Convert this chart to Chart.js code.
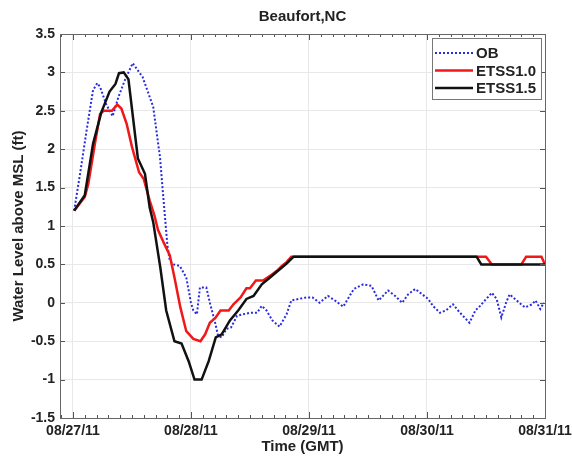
<!DOCTYPE html>
<html>
<head>
<meta charset="utf-8">
<script src="https://cdn.jsdelivr.net/npm/chart.js@4/dist/chart.umd.min.js"></script>
<style>
  body { margin: 0; background: #fff; }
  canvas { display: block; }
</style>
</head>
<body>
<canvas id="waterChart" width="572" height="456"></canvas>
<script>
// time in days after 08/27/11 00:00 GMT, water level in ft
const dayLabels = ["08/27/11", "08/28/11", "08/29/11", "08/30/11", "08/31/11"];

const obTime = [0.01, 0.06, 0.116, 0.17, 0.206, 0.23, 0.28, 0.336, 0.385, 0.44, 0.506, 0.59, 0.68, 0.737, 0.775, 0.80, 0.82, 0.85, 0.905, 0.96, 1.0, 1.02, 1.05, 1.076, 1.13, 1.16, 1.2, 1.23, 1.26, 1.30, 1.34, 1.39, 1.44, 1.50, 1.56, 1.60, 1.64, 1.69, 1.75, 1.81, 1.85, 1.91, 1.98, 2.03, 2.09, 2.16, 2.22, 2.29, 2.38, 2.46, 2.53, 2.59, 2.67, 2.73, 2.79, 2.84, 2.90, 2.96, 3.01, 3.05, 3.11, 3.16, 3.22, 3.28, 3.36, 3.41, 3.45, 3.49, 3.55, 3.59, 3.63, 3.67, 3.70, 3.76, 3.83, 3.89, 3.92, 3.96, 3.99];
const obLevel = [1.20, 1.68, 2.25, 2.77, 2.86, 2.81, 2.59, 2.43, 2.68, 2.90, 3.12, 2.94, 2.55, 1.90, 1.20, 0.75, 0.55, 0.50, 0.48, 0.33, 0.0, -0.10, -0.15, 0.20, 0.20, 0.0, -0.23, -0.43, -0.45, -0.34, -0.32, -0.17, -0.15, -0.13, -0.13, -0.04, -0.10, -0.23, -0.31, -0.15, 0.03, 0.05, 0.07, 0.07, 0.0, 0.09, 0.03, -0.05, 0.18, 0.24, 0.22, 0.03, 0.16, 0.09, 0.0, 0.11, 0.18, 0.11, 0.05, -0.04, -0.13, -0.10, -0.02, -0.13, -0.26, -0.10, -0.04, 0.03, 0.13, 0.05, -0.19, 0.0, 0.11, 0.03, -0.06, -0.02, 0.03, -0.08, 0.0];

const etss10Time = [0.01, 0.10, 0.13, 0.19, 0.23, 0.26, 0.33, 0.375, 0.41, 0.455, 0.50, 0.56, 0.60, 0.65, 0.69, 0.72, 0.77, 0.82, 0.86, 0.91, 0.96, 1.02, 1.08, 1.12, 1.16, 1.21, 1.25, 1.32, 1.36, 1.42, 1.47, 1.50, 1.55, 1.61, 1.67, 1.73, 1.77, 1.81, 1.85, 3.50, 3.55, 3.80, 3.84, 3.97, 4.00];
const etss10Level = [1.20, 1.38, 1.55, 2.11, 2.46, 2.50, 2.50, 2.58, 2.53, 2.33, 2.03, 1.70, 1.61, 1.33, 1.14, 0.95, 0.78, 0.62, 0.33, -0.06, -0.37, -0.47, -0.50, -0.41, -0.26, -0.19, -0.10, -0.10, -0.02, 0.07, 0.19, 0.19, 0.29, 0.29, 0.35, 0.42, 0.48, 0.53, 0.60, 0.60, 0.50, 0.50, 0.60, 0.60, 0.50];

const etss15Time = [0.01, 0.10, 0.17, 0.24, 0.31, 0.36, 0.39, 0.43, 0.47, 0.55, 0.61, 0.65, 0.68, 0.74, 0.79, 0.86, 0.92, 0.98, 1.03, 1.09, 1.15, 1.21, 1.26, 1.33, 1.40, 1.47, 1.53, 1.60, 1.67, 1.74, 1.81, 1.87, 3.42, 3.46, 4.00];
const etss15Level = [1.20, 1.40, 2.07, 2.48, 2.75, 2.85, 2.99, 3.00, 2.91, 1.88, 1.68, 1.24, 1.05, 0.46, -0.10, -0.50, -0.53, -0.76, -1.0, -1.0, -0.76, -0.45, -0.41, -0.23, -0.10, 0.05, 0.09, 0.24, 0.33, 0.42, 0.51, 0.60, 0.60, 0.50, 0.50];

const yTicks = [-1.5, -1, -0.5, 0, 0.5, 1, 1.5, 2, 2.5, 3, 3.5];

function toPoints(xs, ys) {
    return xs.map((x, i) => ({ x: x, y: ys[i] }));
}

const FONT = "'Liberation Sans', Arial, sans-serif";

// box, inward ticks, legend and title, MATLAB style
const matlabAxes = {
    id: "matlabAxes",
    afterDraw(chart) {
        const ctx = chart.ctx;
        const a = chart.chartArea;
        const xs = chart.scales.x;
        const ys = chart.scales.y;
        ctx.save();
        ctx.strokeStyle = "#555";
        ctx.lineWidth = 1;
        ctx.beginPath();
        // minor x ticks (every 0.1 day)
        for (let i = -1; i <= 40; i++) {
            const v = i / 10;
            if (v < xs.min || v > xs.max) continue;
            const px = Math.round(xs.getPixelForValue(v)) + 0.5;
            const len = (i % 10 === 0) ? 6 : 3;
            ctx.moveTo(px, a.bottom); ctx.lineTo(px, a.bottom - len);
            ctx.moveTo(px, a.top); ctx.lineTo(px, a.top + len);
        }
        yTicks.forEach(v => {
            const py = Math.round(ys.getPixelForValue(v)) + 0.5;
            ctx.moveTo(a.left, py); ctx.lineTo(a.left + 5, py);
            ctx.moveTo(a.right, py); ctx.lineTo(a.right - 5, py);
        });
        ctx.stroke();
        ctx.strokeStyle = "#666";
        ctx.strokeRect(Math.round(a.left) + 0.5, Math.round(a.top) + 0.5,
                       Math.round(a.right - a.left), Math.round(a.bottom - a.top));

        // title
        ctx.fillStyle = "#222";
        ctx.font = "bold 15px " + FONT;
        ctx.textAlign = "center";
        ctx.textBaseline = "middle";
        ctx.fillText("Beaufort,NC", (a.left + a.right) / 2, 17);

        // legend
        const bx = 432, by = 38, bw = 109, bh = 61;
        ctx.fillStyle = "#fff";
        ctx.fillRect(bx, by, bw, bh);
        ctx.strokeStyle = "#777";
        ctx.strokeRect(bx + 0.5, by + 0.5, bw, bh);
        ctx.textAlign = "left";
        ctx.font = "bold 15px " + FONT;
        chart.data.datasets.forEach((ds, i) => {
            const ly = by + 15 + i * 17.5;
            ctx.beginPath();
            ctx.strokeStyle = ds.borderColor;
            ctx.lineWidth = ds.borderWidth;
            ctx.setLineDash(ds.borderDash || []);
            ctx.moveTo(435, ly); ctx.lineTo(473, ly);
            ctx.stroke();
            ctx.setLineDash([]);
            ctx.fillStyle = "#222";
            ctx.fillText(ds.label, 476, ly + 1);
        });
        ctx.restore();
    }
};

new Chart(document.getElementById("waterChart"), {
    type: "line",
    data: {
        datasets: [
            {
                label: "OB",
                data: toPoints(obTime, obLevel),
                borderColor: "#2a2ae0",
                borderWidth: 2,
                borderDash: [2, 2],
                pointRadius: 0,
                tension: 0,
                order: 3
            },
            {
                label: "ETSS1.0",
                data: toPoints(etss10Time, etss10Level),
                borderColor: "#f01818",
                borderWidth: 2.5,
                pointRadius: 0,
                tension: 0,
                order: 2
            },
            {
                label: "ETSS1.5",
                data: toPoints(etss15Time, etss15Level),
                borderColor: "#111",
                borderWidth: 2.5,
                pointRadius: 0,
                tension: 0,
                order: 1
            }
        ]
    },
    options: {
        responsive: false,
        animation: false,
        layout: { padding: { top: 34, right: 27, left: 6, bottom: 0 } },
        plugins: {
            legend: { display: false },
            tooltip: { enabled: false }
        },
        scales: {
            x: {
                type: "linear",
                min: -0.11,
                max: 4.0,
                afterBuildTicks: scale => {
                    scale.ticks = dayLabels.map((d, i) => ({ value: i }));
                },
                afterFit: scale => {
                    scale.height = 38;
                    scale.paddingLeft = 0;
                    scale.paddingRight = 0;
                },
                ticks: {
                    callback: (v) => dayLabels[v],
                    color: "#222",
                    font: { family: FONT, size: 14, weight: "bold" },
                    padding: 5,
                    maxRotation: 0,
                    autoSkip: false
                },
                grid: { color: "#e8e8e8", drawTicks: false },
                border: { display: false },
                title: {
                    display: true,
                    text: "Time (GMT)",
                    color: "#222",
                    font: { family: FONT, size: 15, weight: "bold" },
                    padding: { top: 0, bottom: 0 }
                }
            },
            y: {
                min: -1.5,
                max: 3.5,
                afterBuildTicks: scale => {
                    scale.ticks = yTicks.map(v => ({ value: v }));
                },
                afterFit: scale => { scale.width = 54; },
                ticks: {
                    callback: (v) => String(v),
                    color: "#222",
                    font: { family: FONT, size: 14, weight: "bold" },
                    padding: 5
                },
                grid: { color: "#e8e8e8", drawTicks: false },
                border: { display: false },
                title: {
                    display: true,
                    text: "Water Level above MSL (ft)",
                    color: "#222",
                    font: { family: FONT, size: 15, weight: "bold" },
                    padding: { top: 4, bottom: 0 }
                }
            }
        }
    },
    plugins: [matlabAxes]
});
</script>
</body>
</html>
